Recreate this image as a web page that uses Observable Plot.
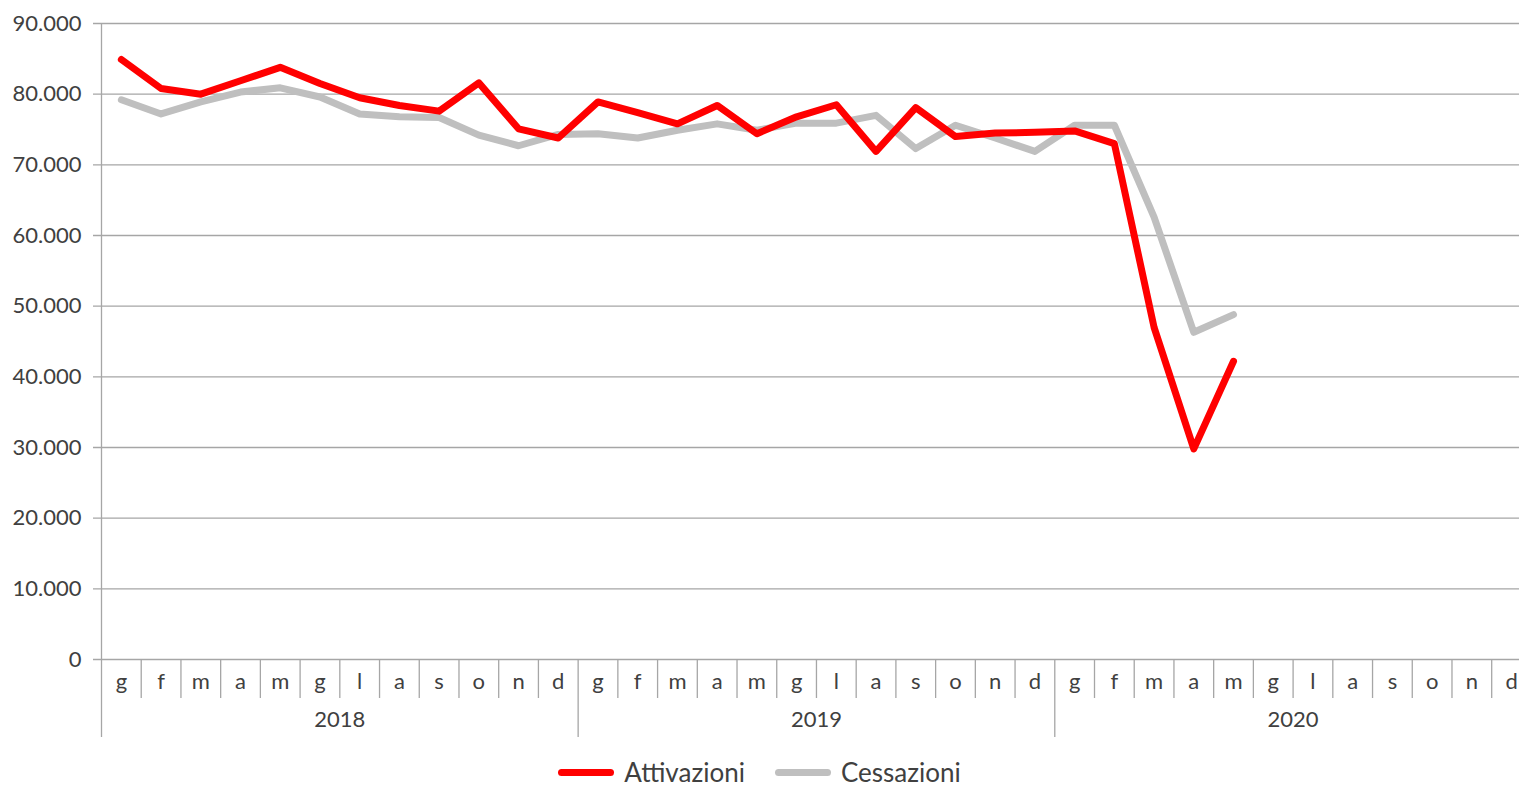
<!DOCTYPE html>
<html>
<head>
<meta charset="utf-8">
<script src="https://cdn.jsdelivr.net/npm/d3@7"></script>
<script src="https://cdn.jsdelivr.net/npm/@observablehq/plot@0.6"></script>
<style>
  html, body { margin: 0; padding: 0; background: #fff; }
  #wrap { position: relative; width: 1519px; height: 788px; font-family: Lato, "Open Sans", sans-serif; }
  #legend { position: absolute; left: 0; top: 760px; width: 1519px; height: 24px; display: flex; justify-content: center; align-items: center; font-size: 26px; line-height: 24px; color: #404040; }
  .item { display: flex; align-items: center; margin: 0 15px; }
  .sw { display: inline-block; width: 56px; height: 7px; border-radius: 4px; margin-right: 10px; }
</style>
</head>
<body>
<div id="wrap">
  <div id="chart"></div>
  <div id="legend"></div>
</div>
<script>
const months = ["g","f","m","a","m","g","l","a","s","o","n","d"];
const years = ["2018","2019","2020"];
const yTicks = [0,10000,20000,30000,40000,50000,60000,70000,80000,90000];
const attivazioni = [84900, 80800, 80000, 81900, 83800, 81500, 79500, 78400, 77600, 81600, 75100, 73800,
                     78900, 77400, 75800, 78400, 74400, 76800, 78500, 71900, 78100, 74000, 74500, 74600,
                     74800, 73000, 47000, 29800, 42200];
const cessazioni = [79200, 77200, 78900, 80300, 80900, 79600, 77200, 76800, 76700, 74200, 72700, 74300,
                    74400, 73800, 74900, 75800, 74900, 75900, 75900, 77000, 72300, 75600, 73800, 71900,
                    75600, 75600, 62600, 46300, 48800];
const seriesNames = ["Attivazioni", "Cessazioni"];
const seriesColors = ["#ff0000", "#bfbfbf"];

const nCat = months.length * years.length;
const cats = d3.range(nCat);
const attData = attivazioni.map((v, i) => ({i, v}));
const cesData = cessazioni.map((v, i) => ({i, v}));
const yearIdx = years.map((y, k) => ({y, k}));
const monthSeps = d3.range(1, nCat).filter(i => i % 12 !== 0).map(i => i - 0.5);
const yearSeps = d3.range(0, years.length + 1).map(k => k * 12 - 0.5);

const itLocale = d3.formatLocale({decimal: ",", thousands: ".", grouping: [3], currency: ["€", ""]});
const fmt = itLocale.format(",");

const W = 1519, H = 750, mTop = 23, mBottom = 91, mLeft = 101;
const plotH = H - mTop - mBottom;
const txt = "#404040";
const gridCol = "#a6a6a6";

const chart = Plot.plot({
  width: W,
  height: H,
  marginTop: mTop,
  marginBottom: mBottom,
  marginLeft: mLeft,
  marginRight: 0,
  style: {fontFamily: "Lato, 'Open Sans', sans-serif", fontSize: "22px", color: txt, background: "#fff"},
  x: {type: "linear", domain: [-0.5, nCat - 0.5], range: [mLeft, mLeft + nCat * 39.72], axis: null},
  y: {domain: [0, 90000], axis: null},
  marks: [
    Plot.ruleY(yTicks, {stroke: gridCol, strokeWidth: 1.3, insetLeft: -8}),
    Plot.ruleX([-0.5], {x: d => d, stroke: gridCol, strokeWidth: 1.3}),
    Plot.ruleX(monthSeps, {x: d => d, stroke: gridCol, strokeWidth: 1.3, insetTop: plotH, insetBottom: -39}),
    Plot.ruleX(yearSeps, {x: d => d, stroke: gridCol, strokeWidth: 1.3, insetTop: plotH, insetBottom: -78}),
    Plot.text(yTicks, {y: d => d, text: d => fmt(d), frameAnchor: "left", textAnchor: "end", dx: -20, fill: txt, fontSize: 22}),
    Plot.text(cats, {x: d => d, text: d => months[d % 12], frameAnchor: "bottom", dy: 29, fill: txt, fontSize: 22}),
    Plot.text(yearIdx, {x: d => d.k * 12 + 5.5, text: d => d.y, frameAnchor: "bottom", dy: 67, fill: txt, fontSize: 22}),
    Plot.lineY(cesData, {x: "i", y: "v", stroke: seriesColors[1], strokeWidth: 7, strokeLinejoin: "round", strokeLinecap: "round"}),
    Plot.lineY(attData, {x: "i", y: "v", stroke: seriesColors[0], strokeWidth: 7, strokeLinejoin: "round", strokeLinecap: "round"})
  ]
});
document.getElementById("chart").appendChild(chart);

const legend = document.getElementById("legend");
seriesNames.forEach((name, k) => {
  const it = document.createElement("div");
  it.className = "item";
  const sw = document.createElement("span");
  sw.className = "sw";
  sw.style.background = seriesColors[k];
  it.appendChild(sw);
  it.appendChild(document.createTextNode(name));
  legend.appendChild(it);
});
</script>
</body>
</html>
